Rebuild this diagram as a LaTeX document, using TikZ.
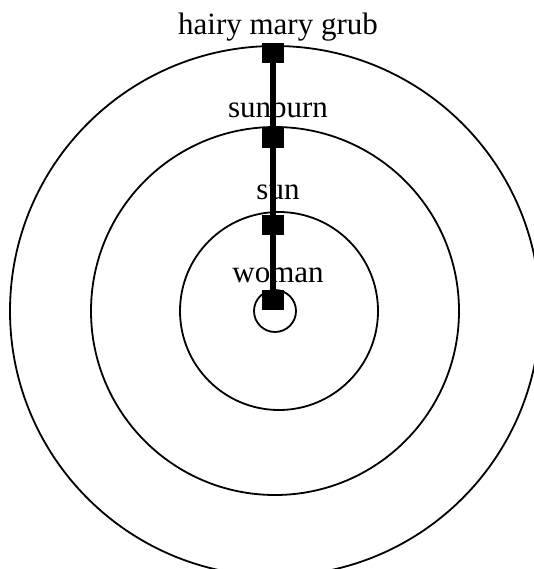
\documentclass[tikz,border=0pt]{standalone}
\usepackage{fontspec}
\setmainfont{Liberation Serif}
\usetikzlibrary{positioning}
\begin{document}
\begin{tikzpicture}[x=1pt,y=-1pt,
  ring/.style={line width=1.8pt},
  blk/.style={fill=black,inner sep=0pt,minimum width=22pt,minimum height=20pt},
  lbl/.style={inner sep=0pt,anchor=base,font=\fontsize{31}{36}\selectfont}]
\useasboundingbox (0,0) rectangle (533,569);
\draw[ring] (275,311) circle[radius=265];
\draw[ring] (275,311) circle[radius=184];
\draw[ring] (279,311) circle[radius=99];
\draw[ring] (275,311) circle[radius=21];
\node[blk] (grub) at (273,53) {};
\node[blk] (sunburn) at (273,138) {};
\node[blk] (sun) at (273,225) {};
\node[blk] (woman) at (273,300) {};
\draw[line width=6pt] (grub.center) -- (sunburn.center) -- (sun.center) -- (woman.center);
\node[lbl] (grubtxt) at (278,35) {hairy mary grub};
\node[lbl] (sunburntxt) at (278,118) {sunburn};
\node[lbl] (suntxt) at (278,200) {sun};
\node[lbl] (womantxt) at (278,282) {woman};
\end{tikzpicture}
\end{document}
